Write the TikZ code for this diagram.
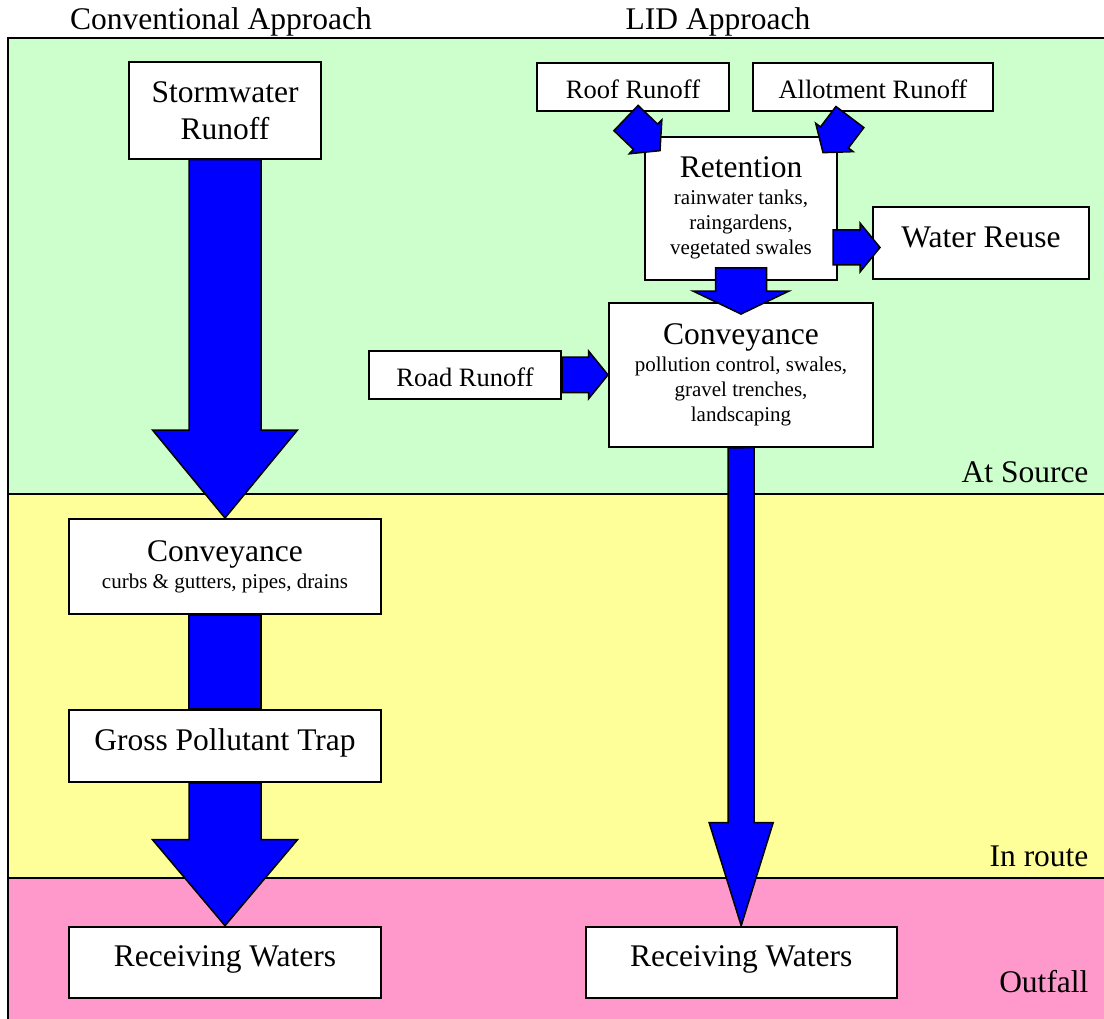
\documentclass[tikz,border=0pt]{standalone}
\usepackage{fontspec}
\setmainfont{Liberation Serif}
\usepackage{xcolor}
\usetikzlibrary{calc}

\definecolor{sourcegreen}{HTML}{CCFFCC}
\definecolor{routeyellow}{HTML}{FFFF99}
\definecolor{outfallpink}{HTML}{FF99CC}
\definecolor{flowblue}{HTML}{0000FF}

\newcommand{\flowbig}{\fontsize{31.5}{36.7}\selectfont}
\newcommand{\flowmid}{\fontsize{26.5}{30}\selectfont}
\newcommand{\flowsmall}{\fontsize{21}{25}\selectfont}

% block arrow: from, to, shaft half width, head half width, head length
\newcommand{\flowarrow}[5]{%
	\coordinate (fa-a) at (#1);
	\coordinate (fa-b) at (#2);
	\coordinate (fa-h) at ($(fa-b)!#5!(fa-a)$);
	\filldraw[flow] ($(fa-a)!#3!90:(fa-b)$) -- ($(fa-h)!#3!-90:(fa-a)$)
		-- ($(fa-h)!#4!-90:(fa-a)$) -- (fa-b) -- ($(fa-h)!#4!90:(fa-a)$)
		-- ($(fa-h)!#3!90:(fa-a)$) -- ($(fa-a)!#3!-90:(fa-b)$) -- cycle;
}

\begin{document}
\begin{tikzpicture}[x=1pt, y=-1pt,
				box/.style={draw, fill=white, line width=2pt, inner sep=0pt, align=center},
				bigline/.style={font=\flowbig, text height=22pt, text depth=13pt},
				midline/.style={font=\flowmid, text height=23pt, text depth=0pt},
				flow/.style={draw, fill=flowblue, line width=1.5pt, line join=miter},
				band/.style={draw, line width=2pt}]
				\useasboundingbox (0,0) rectangle (1104,1019);
				\clip (0,0) rectangle (1104,1019);
				% zones
				\filldraw[band, fill=sourcegreen] (8,38) rectangle (1110,494);
				\filldraw[band, fill=routeyellow] (8,494) rectangle (1110,878);
				\filldraw[band, fill=outfallpink] (8,878) rectangle (1110,1030);
				\node at (221,29.3) (convhead) [anchor=base, font=\flowbig] {Conventional Approach};
				\node at (718,29.3) (lidhead) [anchor=base, font=\flowbig] {LID Approach};
				\node at (1092,482) (source) [anchor=base east, font=\flowbig] {At Source};
				\node at (1092,866) (route) [anchor=base east, font=\flowbig] {In route};
				\node at (1092,992) (outfall) [anchor=base east, font=\flowbig] {Outfall};
				% conventional
				\node at (225,110.5) (storm) [box, minimum width=192pt, minimum height=96.4pt, font=\flowbig] {Stormwater\\Runoff};
				\node at (225,566.5) (conv1) [box, minimum width=312pt, minimum height=95pt, font=\flowsmall] {{\flowbig Conveyance}\\[2pt]curbs \& gutters, pipes, drains};
				\node at (225,746) (gpt) [box, bigline, minimum width=312pt, minimum height=72pt] {Gross Pollutant Trap};
				\node at (225,962.2) (recv1) [box, bigline, minimum width=312pt, minimum height=71pt] {Receiving Waters};
				% LID
				\node at (633,86.9) (roof) [box, midline, minimum width=192.5pt, minimum height=48.3pt] {Roof Runoff};
				\node at (872.9,86.9) (allot) [box, midline, minimum width=240.2pt, minimum height=48.3pt] {Allotment Runoff};
				\node at (741,208.3) (ret) [box, minimum width=192pt, minimum height=143.3pt, font=\flowsmall] {{\flowbig Retention}\\[2pt]rainwater tanks,\\raingardens,\\vegetated swales};
				\node at (981,243) (water) [box, bigline, minimum width=216pt, minimum height=72pt] {Water Reuse};
				\node at (465,374.9) (road) [box, midline, minimum width=192pt, minimum height=48.3pt] {Road Runoff};
				\node at (741,374.9) (conv2) [box, minimum width=264pt, minimum height=143.7pt, font=\flowsmall] {{\flowbig Conveyance}\\[2pt]pollution control, swales,\\gravel trenches,\\landscaping};
				\node at (741.2,962.2) (recv2) [box, bigline, minimum width=311pt, minimum height=71pt] {Receiving Waters};
				% flows
				\flowarrow{storm.south}{conv1.north}{36pt}{72.5pt}{88pt}
				\filldraw[flow] ($(conv1.south)+(-36,0)$) rectangle ($(gpt.north)+(36,0)$);
				\flowarrow{gpt.south}{recv1.north}{36pt}{72.5pt}{86pt}
				\flowarrow{$(roof.south)+(-7,6)$}{$(ret.north west)+(16,15)$}{17.5pt}{23.5pt}{20pt}
				\flowarrow{$(allot.south)+(-23,5)$}{$(ret.north east)+(-15,17)$}{17.5pt}{23.5pt}{19pt}
				\flowarrow{$(ret.south)+(0,-13)$}{$(conv2.north)+(0,12)$}{25.5pt}{48pt}{23pt}
				\flowarrow{$(ret.east |- water.west)+(-5,4.5)$}{$(water.west)+(8,4.5)$}{17.5pt}{24.5pt}{20pt}
				\flowarrow{road.east}{conv2.west}{17.8pt}{24pt}{19.5pt}
				\flowarrow{conv2.south}{recv2.north}{13pt}{32pt}{103pt}
			\end{tikzpicture}
\end{document}
